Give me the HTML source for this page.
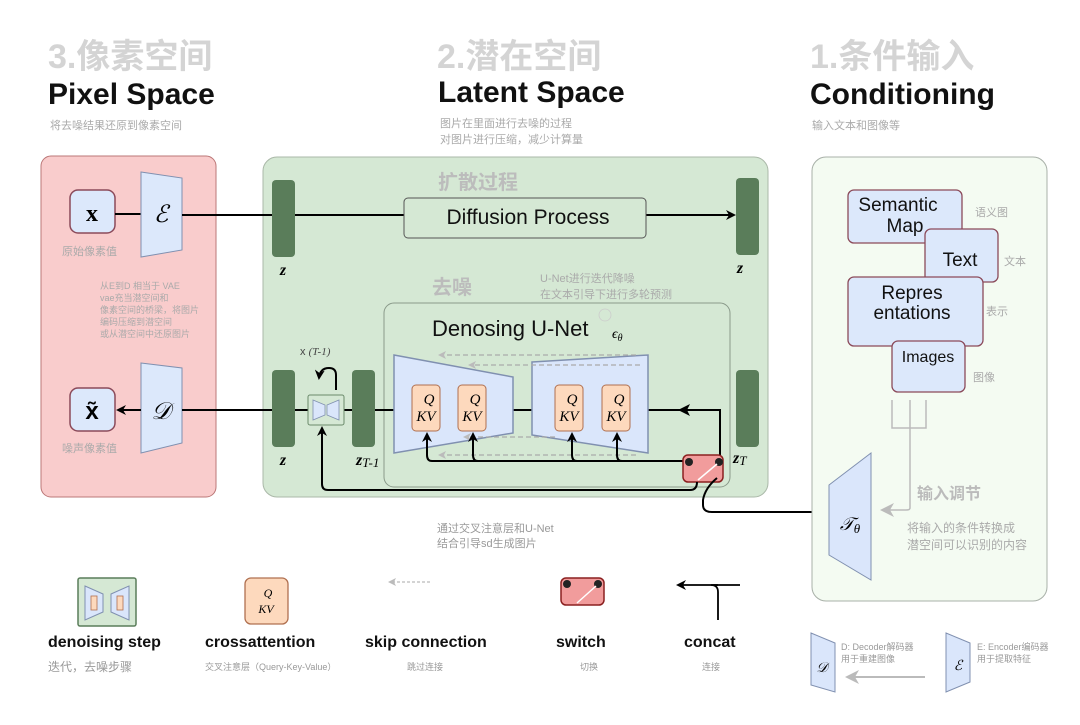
<!DOCTYPE html>
<html><head><meta charset="utf-8"><style>
html,body{margin:0;padding:0;background:#fff}
svg{font-family:"Liberation Sans","Noto Sans CJK SC",sans-serif}
.m{font-family:"Liberation Serif","DejaVu Serif",serif;font-style:italic}
</style></head><body>
<svg width="1080" height="720" viewBox="0 0 1080 720" xmlns="http://www.w3.org/2000/svg">
<defs>
<marker id="ab" markerWidth="10" markerHeight="10" refX="8" refY="5" orient="auto" markerUnits="userSpaceOnUse"><path d="M0,0 L10,5 L0,10 L3,5z" fill="#000"/></marker>
<marker id="ag" markerWidth="8" markerHeight="8" refX="6" refY="4" orient="auto" markerUnits="userSpaceOnUse"><path d="M0,0 L8,4 L0,8 L2,4z" fill="#bbb"/></marker>
<marker id="ag2" markerWidth="14" markerHeight="14" refX="12" refY="7" orient="auto" markerUnits="userSpaceOnUse"><path d="M0,0 L14,7 L0,14 L4,7z" fill="#bbb"/></marker>
</defs>

<text x="48" y="68" font-size="34" font-weight="bold" fill="#d4d4d4">3.像素空间</text>
<text x="48" y="104" font-size="30" font-weight="bold" fill="#111">Pixel Space</text>
<text x="50" y="129" font-size="11" fill="#aaa">将去噪结果还原到像素空间</text>
<text x="437" y="68" font-size="34" font-weight="bold" fill="#d4d4d4">2.潜在空间</text>
<text x="438" y="102" font-size="30" font-weight="bold" fill="#111">Latent Space</text>
<text x="440" y="127" font-size="11" fill="#aaa">图片在里面进行去噪的过程</text>
<text x="440" y="143" font-size="11" fill="#aaa">对图片进行压缩，减少计算量</text>
<text x="810" y="68" font-size="34" font-weight="bold" fill="#d4d4d4">1.条件输入</text>
<text x="810" y="104" font-size="30" font-weight="bold" fill="#111">Conditioning</text>
<text x="812" y="129" font-size="11" fill="#aaa">输入文本和图像等</text>

<rect x="41" y="156" width="175" height="341" rx="10" fill="#f9cccc" stroke="#b77"/>
<rect x="70" y="190" width="45" height="43" rx="8" fill="#dce8fb" stroke="#8b4a5a" stroke-width="1.5"/>
<text x="92" y="221" font-size="24" font-weight="bold" text-anchor="middle" font-family="Liberation Serif">x</text>
<line x1="115" y1="214" x2="141" y2="214" stroke="#000" stroke-width="2"/>
<polygon points="141,172 182,178 182,250 141,257" fill="#dce8fb" stroke="#8090b0"/>
<text x="161" y="222" font-size="24" text-anchor="middle" class="m">ℰ</text>
<text x="62" y="255" font-size="11" fill="#aaa">原始像素值</text>
<text x="100" y="289" font-size="9" fill="#aaa">从E到D 相当于 VAE</text>
<text x="100" y="301" font-size="9" fill="#aaa">vae充当潜空间和</text>
<text x="100" y="313" font-size="9" fill="#aaa">像素空间的桥梁，将图片</text>
<text x="100" y="325" font-size="9" fill="#aaa">编码压缩到潜空间</text>
<text x="100" y="337" font-size="9" fill="#aaa">或从潜空间中还原图片</text>
<rect x="70" y="388" width="45" height="43" rx="8" fill="#dce8fb" stroke="#8b4a5a" stroke-width="1.5"/>
<text x="92" y="419" font-size="24" font-weight="bold" text-anchor="middle">x̃</text>
<polygon points="141,363 182,368 182,443 141,453" fill="#dce8fb" stroke="#8090b0"/>
<text x="161" y="419" font-size="24" text-anchor="middle" class="m">𝒟</text>
<line x1="141" y1="410" x2="118" y2="410" stroke="#000" stroke-width="2" marker-end="url(#ab)"/>
<text x="62" y="452" font-size="11" fill="#aaa">噪声像素值</text>

<rect x="263" y="157" width="505" height="340" rx="14" fill="#d5e8d4" stroke="#aab8a8"/>
<line x1="182" y1="215" x2="404" y2="215" stroke="#000" stroke-width="2"/>
<line x1="646" y1="215" x2="734" y2="215" stroke="#000" stroke-width="2" marker-end="url(#ab)"/>
<rect x="272" y="180" width="23" height="77" rx="4" fill="#5a7d5a"/>
<rect x="736" y="178" width="23" height="77" rx="4" fill="#5a7d5a"/>
<text x="283" y="275" font-size="16" text-anchor="middle" class="m" font-weight="bold">z</text>
<text x="740" y="273" font-size="16" text-anchor="middle" class="m" font-weight="bold">z</text>
<text x="438" y="189" font-size="20" font-weight="bold" fill="#bcbcbc">扩散过程</text>
<rect x="404" y="198" width="242" height="40" rx="4" fill="#d5e8d4" stroke="#555"/>
<text x="528" y="224" font-size="21" text-anchor="middle" fill="#111">Diffusion Process</text>
<text x="432" y="294" font-size="20" font-weight="bold" fill="#bcbcbc">去噪</text>
<text x="540" y="282" font-size="11" fill="#aaa">U-Net进行迭代降噪</text>
<text x="540" y="298" font-size="11" fill="#aaa">在文本引导下进行多轮预测</text>
<rect x="384" y="303" width="346" height="184" rx="10" fill="#d5e8d4" stroke="#8a9a8a"/>
<text x="432" y="336" font-size="22" fill="#111">Denosing U-Net</text>
<text x="612" y="338" font-size="14" class="m">ϵ<tspan font-size="10" dy="3">θ</tspan></text>
<circle cx="605" cy="315" r="6" fill="none" stroke="#ccc" stroke-width="0.8"/>

<line x1="182" y1="410" x2="395" y2="410" stroke="#000" stroke-width="2"/>
<line x1="513" y1="410" x2="532" y2="410" stroke="#000" stroke-width="2"/>
<path d="M720,462 L720,410 L648,410" fill="none" stroke="#000" stroke-width="2"/>
<path d="M678,410 L690,404 L687,410 L690,416z" fill="#000"/>

<polygon points="394,355 513,377 513,433 394,453" fill="#dae6fb" stroke="#8090b0" stroke-width="1.5"/>
<polygon points="532,362 648,355 648,453 532,435" fill="#dae6fb" stroke="#8090b0" stroke-width="1.5"/>
<g stroke="#aaa" stroke-dasharray="5,3" stroke-width="1.3" fill="none">
<line x1="636" y1="355" x2="440" y2="355" marker-end="url(#ag)"/>
<line x1="640" y1="365" x2="470" y2="365" marker-end="url(#ag)"/>
<line x1="555" y1="437" x2="465" y2="437" marker-end="url(#ag)"/>
<line x1="636" y1="455" x2="440" y2="455" marker-end="url(#ag)"/>
</g>
<g fill="#fdd9bd" stroke="#b07050">
<rect x="412" y="385" width="28" height="46" rx="4"/>
<rect x="458" y="385" width="28" height="46" rx="4"/>
<rect x="555" y="385" width="28" height="46" rx="4"/>
<rect x="602" y="385" width="28" height="46" rx="4"/>
</g>
<g font-size="15" class="m" text-anchor="middle">
<text x="429" y="404">Q</text><text x="426" y="421">KV</text>
<text x="475" y="404">Q</text><text x="472" y="421">KV</text>
<text x="572" y="404">Q</text><text x="569" y="421">KV</text>
<text x="619" y="404">Q</text><text x="616" y="421">KV</text>
</g>
<g stroke="#000" stroke-width="2" fill="none">
<path d="M690,461 L432,461 Q427,461 427,455 L427,434" marker-end="url(#ab)"/>
<path d="M478,461 Q473,461 473,455 L473,434" marker-end="url(#ab)"/>
<path d="M577,461 Q572,461 572,455 L572,434" marker-end="url(#ab)"/>
<path d="M622,461 Q617,461 617,455 L617,434" marker-end="url(#ab)"/>
</g>
<rect x="683" y="455" width="40" height="27" rx="5" fill="#f19c9c" stroke="#8b2020" stroke-width="1.5"/>
<circle cx="689" cy="462" r="4" fill="#222"/><circle cx="719" cy="462" r="4" fill="#222"/>
<line x1="698" y1="480" x2="717" y2="464" stroke="#fff" stroke-width="1.5"/>
<path d="M717,478 Q705,488 703,500 L703,505 Q703,512 712,512 L830,512" fill="none" stroke="#000" stroke-width="2"/>
<path d="M697,482 Q697,490 690,490 L328,490 Q322,490 322,484 L322,428" fill="none" stroke="#000" stroke-width="2" marker-end="url(#ab)"/>

<rect x="272" y="370" width="23" height="77" rx="4" fill="#5a7d5a"/>
<rect x="352" y="370" width="23" height="77" rx="4" fill="#5a7d5a"/>
<rect x="736" y="370" width="23" height="77" rx="4" fill="#5a7d5a"/>
<text x="283" y="465" font-size="16" text-anchor="middle" class="m" font-weight="bold">z</text>
<text x="356" y="465" font-size="16" class="m" font-weight="bold">z<tspan font-size="13" font-weight="normal" dy="2">T-1</tspan></text>
<text x="733" y="463" font-size="16" class="m" font-weight="bold">z<tspan font-size="13" font-weight="normal" dy="2">T</tspan></text>
<rect x="308" y="395" width="36" height="30" rx="2" fill="#d5e8d4" stroke="#6a8a6a"/>
<polygon points="313,400 325,405 325,415 313,420" fill="#dae6fb" stroke="#8090b0" stroke-width="0.8"/>
<polygon points="327,405 339,400 339,420 327,415" fill="#dae6fb" stroke="#8090b0" stroke-width="0.8"/>
<path d="M336,390 L336,375 Q336,368 329,368 Q320,368 319,378" fill="none" stroke="#000" stroke-width="2" marker-end="url(#ab)"/>
<text x="300" y="355" font-size="11" fill="#444">x <tspan class="m">(T-1)</tspan></text>

<rect x="812" y="157" width="235" height="444" rx="14" fill="#f4fbf2" stroke="#a8b0a8"/>
<g fill="#dce8fb" stroke="#8b4a5a" stroke-width="1.3">
<rect x="848" y="190" width="114" height="53" rx="6"/>
<rect x="925" y="229" width="73" height="53" rx="6"/>
<rect x="848" y="277" width="135" height="69" rx="6"/>
<rect x="892" y="341" width="73" height="51" rx="6"/>
</g>
<g font-size="19" fill="#111" text-anchor="middle">
<text x="898" y="211">Semantic</text><text x="905" y="232">Map</text>
<text x="960" y="266">Text</text>
<text x="912" y="299">Repres</text><text x="912" y="319">entations</text>
<text x="928" y="362" font-size="16">Images</text>
</g>
<g font-size="11" fill="#aaa">
<text x="975" y="216">语义图</text><text x="1004" y="265">文本</text>
<text x="986" y="315">表示</text><text x="973" y="381">图像</text>
</g>
<g stroke="#bbb" stroke-width="1.5" fill="none">
<path d="M892,400 L892,428 L926,428 L926,400"/>
<path d="M910,400 L910,508 Q910,510 906,510 L882,510" marker-end="url(#ag2)"/>
</g>
<polygon points="829,485 871,453 871,580 829,555" fill="#dae6fb" stroke="#8090b0"/>
<text x="850" y="530" font-size="18" text-anchor="middle" class="m">𝒯<tspan font-size="13" dy="3">θ</tspan></text>
<text x="917" y="499" font-size="16" font-weight="bold" fill="#bbb">输入调节</text>
<text x="907" y="532" font-size="12" fill="#aaa">将输入的条件转换成</text>
<text x="907" y="549" font-size="12" fill="#aaa">潜空间可以识别的内容</text>

<text x="437" y="532" font-size="11" fill="#999">通过交叉注意层和U-Net</text>
<text x="437" y="547" font-size="11" fill="#999">结合引导sd生成图片</text>

<rect x="78" y="578" width="58" height="48" rx="2" fill="#d5e8d4" stroke="#5a7d5a" stroke-width="1.5"/>
<polygon points="85,586 103,594 103,612 85,620" fill="#dae6fb" stroke="#8090b0"/>
<polygon points="111,594 129,586 129,620 111,612" fill="#dae6fb" stroke="#8090b0"/>
<rect x="91" y="596" width="6" height="14" fill="#fdd9bd" stroke="#b07050" stroke-width="0.8"/>
<rect x="117" y="596" width="6" height="14" fill="#fdd9bd" stroke="#b07050" stroke-width="0.8"/>
<text x="48" y="647" font-size="16" font-weight="bold" fill="#111">denoising step</text>
<text x="48" y="671" font-size="12" fill="#999">迭代，去噪步骤</text>

<rect x="245" y="578" width="43" height="46" rx="6" fill="#fdd9bd" stroke="#b07050" stroke-width="1.3"/>
<text x="268" y="597" font-size="12" class="m" text-anchor="middle">Q</text>
<text x="266" y="613" font-size="12" class="m" text-anchor="middle">KV</text>
<text x="205" y="647" font-size="16" font-weight="bold" fill="#111">crossattention</text>
<text x="205" y="670" font-size="9" fill="#999">交叉注意层（Query-Key-Value）</text>

<line x1="430" y1="582" x2="390" y2="582" stroke="#aaa" stroke-dasharray="3,2" marker-end="url(#ag)"/>
<text x="365" y="647" font-size="16" font-weight="bold" fill="#111">skip connection</text>
<text x="407" y="670" font-size="9" fill="#999">跳过连接</text>

<rect x="561" y="578" width="43" height="27" rx="5" fill="#f19c9c" stroke="#8b2020" stroke-width="1.5"/>
<circle cx="567" cy="584" r="4" fill="#222"/><circle cx="598" cy="584" r="4" fill="#222"/>
<line x1="577" y1="603" x2="596" y2="586" stroke="#fff" stroke-width="1.5"/>
<text x="556" y="647" font-size="16" font-weight="bold" fill="#111">switch</text>
<text x="580" y="670" font-size="9" fill="#999">切换</text>

<path d="M718,620 L718,592 Q718,585 711,585 L740,585" fill="none" stroke="#000" stroke-width="1.8"/>
<line x1="718" y1="585" x2="678" y2="585" stroke="#000" stroke-width="1.8" marker-end="url(#ab)"/>
<text x="684" y="647" font-size="16" font-weight="bold" fill="#111">concat</text>
<text x="702" y="670" font-size="9" fill="#999">连接</text>

<polygon points="811,633 835,643 835,692 811,685" fill="#dae6fb" stroke="#8090b0"/>
<text x="822" y="672" font-size="14" class="m" text-anchor="middle">𝒟</text>
<text x="841" y="650" font-size="9" fill="#999">D: Decoder解码器</text>
<text x="841" y="662" font-size="9" fill="#999">用于重建图像</text>
<line x1="925" y1="677" x2="847" y2="677" stroke="#bbb" stroke-width="2" marker-end="url(#ag2)"/>
<polygon points="946,633 970,643 970,682 946,692" fill="#dae6fb" stroke="#8090b0"/>
<text x="958" y="670" font-size="14" class="m" text-anchor="middle">ℰ</text>
<text x="977" y="650" font-size="9" fill="#999">E: Encoder编码器</text>
<text x="977" y="662" font-size="9" fill="#999">用于提取特征</text>
</svg>
</body></html>
